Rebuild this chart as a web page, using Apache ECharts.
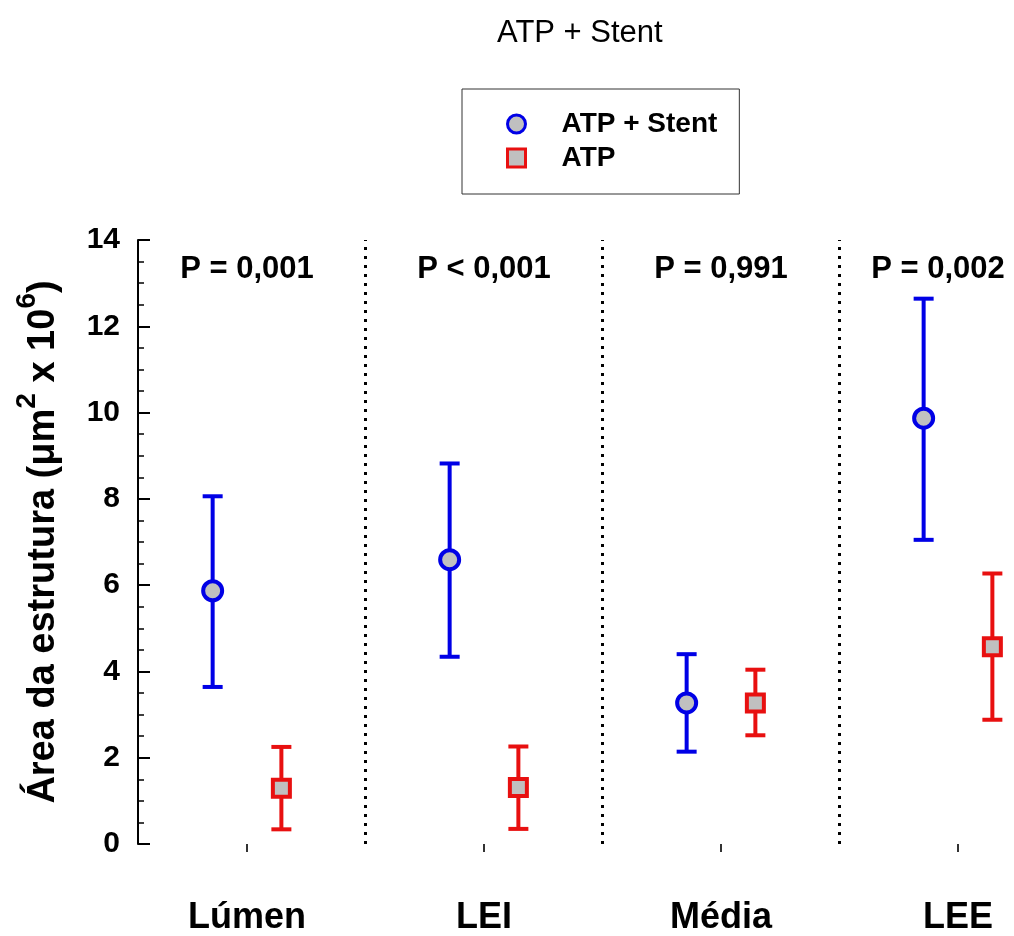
<!DOCTYPE html>
<html>
<head>
    <meta charset="utf-8">
    <title>ATP + Stent</title>
    <script src="https://cdn.jsdelivr.net/npm/echarts@6/dist/echarts.min.js"></script>
    <style>
        body { margin: 0; background: #fff; }
    </style>
</head>
<body>
    <div id="main" style="width: 1014px;height: 936px;"></div>
    <script type="text/javascript">
        // dados (media e limites das barras de erro)
        var categories = ['Lúmen', 'LEI', 'Média', 'LEE'];
        var pLabels = ['P = 0,001', 'P < 0,001', 'P = 0,991', 'P = 0,002'];

        var stentMean = [5.87, 6.59, 3.27, 9.87];
        var stentHigh = [8.06, 8.82, 4.40, 12.64];
        var stentLow = [3.64, 4.34, 2.14, 7.05];

        var atpMean = [1.29, 1.31, 3.27, 4.57];
        var atpHigh = [2.25, 2.26, 4.04, 6.27];
        var atpLow = [0.34, 0.35, 2.52, 2.88];

        var FONT = 'Liberation Sans, Arial, Helvetica, sans-serif';
        var BLUE = '#0000e6';
        var RED = '#e81010';
        var GRAY = '#c0c0c0';
        var OFF = 0.145;

        var myChart = echarts.init(document.getElementById('main'));

        function errorBar(color) {
            return function (params, api) {
                var x = api.value(0);
                var top = api.coord([x, api.value(1)]);
                var bot = api.coord([x, api.value(2)]);
                var w = 10;
                var style = { stroke: color, lineWidth: 4 };
                return {
                    type: 'group',
                    children: [
                        { type: 'line', shape: { x1: top[0], y1: top[1], x2: bot[0], y2: bot[1] }, style: style },
                        { type: 'line', shape: { x1: top[0] - w, y1: top[1], x2: top[0] + w, y2: top[1] }, style: style },
                        { type: 'line', shape: { x1: bot[0] - w, y1: bot[1], x2: bot[0] + w, y2: bot[1] }, style: style }
                    ]
                };
            };
        }

        var option = {
            backgroundColor: '#fff',
            animation: false,
            title: {
                text: 'ATP + Stent',
                left: 492,
                top: 13,
                textStyle: { fontFamily: FONT, fontSize: 31, fontWeight: 'normal', color: '#000' }
            },
            legend: {
                data: [
                    { name: 'ATP + Stent', icon: 'circle' },
                    { name: 'ATP', icon: 'rect' }
                ],
                orient: 'vertical',
                left: 462,
                top: 89,
                padding: [21, 22, 22, 44],
                itemWidth: 18,
                itemHeight: 18,
                itemGap: 6,
                borderColor: '#333',
                borderWidth: 1,
                itemStyle: { borderWidth: 3 },
                textStyle: {
                    fontFamily: FONT, fontSize: 28, fontWeight: 'bold', color: '#000',
                    padding: [0, 0, 0, 31]
                }
            },
            grid: { left: 138, right: 8.6, top: 240, bottom: 88 },
            xAxis: {
                type: 'value',
                min: 0.54,
                max: 4.2,
                offset: 24,
                axisLine: { show: false },
                splitLine: { show: false },
                axisTick: {
                    customValues: [1, 2, 3, 4],
                    length: 8,
                    lineStyle: { color: '#333', width: 2 }
                },
                axisLabel: {
                    customValues: [1, 2, 3, 4],
                    margin: 32,
                    fontFamily: FONT,
                    fontSize: 36,
                    fontWeight: 'bold',
                    color: '#000',
                    formatter: function (v) { return categories[Math.round(v) - 1]; }
                }
            },
            yAxis: {
                type: 'value',
                min: 0,
                max: 14,
                interval: 2,
                name: '{a|Área da estrutura (μm}{s|2}{a| x 10}{s|6}{a|)}',
                nameLocation: 'middle',
                nameRotate: 90,
                nameGap: 75,
                nameTextStyle: {
                    rich: {
                        a: { fontFamily: FONT, fontSize: 38, fontWeight: 'bold', color: '#000', lineHeight: 50, verticalAlign: 'bottom' },
                        s: { fontFamily: FONT, fontSize: 28, fontWeight: 'bold', color: '#000', lineHeight: 28, verticalAlign: 'top' }
                    }
                },
                axisLine: { show: true, lineStyle: { color: '#000', width: 2 } },
                axisTick: { show: true, inside: true, length: 12, lineStyle: { color: '#000', width: 2 } },
                minorTick: { show: true, splitNumber: 4, length: 6, lineStyle: { color: '#000', width: 1.5 } },
                splitLine: { show: false },
                axisLabel: {
                    margin: 18,
                    fontFamily: FONT,
                    fontSize: 30,
                    fontWeight: 'bold',
                    color: '#000'
                }
            },
            series: [
                {
                    name: 'stent-dp',
                    type: 'custom',
                    z: 2,
                    renderItem: errorBar(BLUE),
                    data: categories.map(function (c, i) { return [i + 1 - OFF, stentHigh[i], stentLow[i]]; }),
                    markLine: {
                        silent: true,
                        symbol: 'none',
                        label: { show: false },
                        lineStyle: { color: '#000', width: 3, type: [3, 6] },
                        data: [{ xAxis: 1.5 }, { xAxis: 2.5 }, { xAxis: 3.5 }]
                    }
                },
                {
                    name: 'atp-dp',
                    type: 'custom',
                    z: 2,
                    renderItem: errorBar(RED),
                    data: categories.map(function (c, i) { return [i + 1 + OFF, atpHigh[i], atpLow[i]]; })
                },
                {
                    name: 'ATP + Stent',
                    type: 'scatter',
                    z: 5,
                    symbol: 'circle',
                    symbolSize: 19,
                    itemStyle: { color: GRAY, borderColor: BLUE, borderWidth: 4, opacity: 1 },
                    data: categories.map(function (c, i) { return [i + 1 - OFF, stentMean[i]]; })
                },
                {
                    name: 'ATP',
                    type: 'scatter',
                    z: 5,
                    symbol: 'rect',
                    symbolSize: 17,
                    itemStyle: { color: GRAY, borderColor: RED, borderWidth: 4, opacity: 1 },
                    data: categories.map(function (c, i) { return [i + 1 + OFF, atpMean[i]]; })
                },
                {
                    name: 'p-valores',
                    type: 'custom',
                    z: 6,
                    renderItem: function (params, api) {
                        var i = params.dataIndex;
                        var pt = api.coord([i + 1, 14]);
                        var x = Math.min(pt[0], api.getWidth() - 76);
                        return {
                            type: 'text',
                            style: {
                                text: pLabels[i],
                                x: x,
                                y: pt[1] + 29,
                                fill: '#000',
                                fontFamily: FONT,
                                fontSize: 31,
                                fontWeight: 'bold',
                                align: 'center',
                                verticalAlign: 'middle'
                            }
                        };
                    },
                    data: pLabels.map(function (t, i) { return [i + 1, 14]; })
                }
            ]
        };

        myChart.setOption(option);
    </script>
</body>
</html>
